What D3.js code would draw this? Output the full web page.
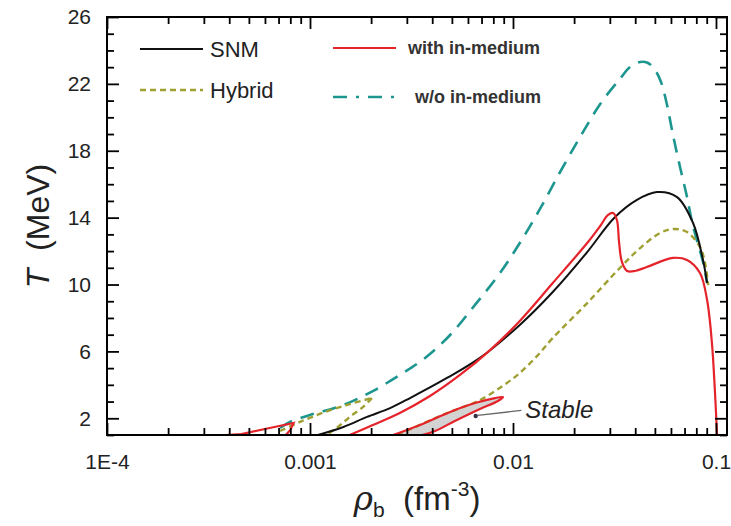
<!DOCTYPE html>
<html>
<head>
<meta charset="utf-8">
<script src="https://cdn.jsdelivr.net/npm/d3@7/dist/d3.min.js"></script>
<style>
  html, body { margin: 0; padding: 0; background: #fff; }
  svg { display: block; font-family: "Liberation Sans", Arial, sans-serif; }
</style>
</head>
<body>
<svg id="chart" width="731" height="526"></svg>
<script>
// ---------------- DATA ----------------
const xMajorTicks = [1e-4, 1e-3, 1e-2, 1e-1];
const xMajorLabels = ["1E-4", "0.001", "0.01", "0.1"];
const yMajorTicks = [2, 6, 10, 14, 18, 22, 26];
const yMajorLabels = ["2", "6", "10", "14", "18", "22", "26"];

// SNM (black solid)
const snmRho = [1.094e-3, 1.46e-3, 1.91e-3, 2.48e-3, 3.11e-3, 4.73e-3, 6.87e-3, 0.0108, 0.0157, 0.0232, 0.0315, 0.0408, 0.0512, 0.0643, 0.0771, 0.0863, 0.0904];
const snmT   = [1.0, 1.48, 2.08, 2.61, 3.21, 4.41, 5.61, 7.58, 9.55, 11.94, 13.98, 15.06, 15.53, 15.23, 13.68, 11.47, 10.09];

// w/o in-medium (teal dashed)
const woRho = [7.12e-4, 7.96e-4, 1.0e-3, 1.46e-3, 2.04e-3, 2.77e-3, 3.69e-3, 4.90e-3, 6.50e-3, 8.63e-3, 0.0108, 0.01358, 0.01706, 0.0214, 0.0269, 0.0336, 0.0377, 0.0423, 0.0462, 0.0501, 0.0536, 0.0574, 0.0614, 0.0665, 0.0720, 0.0762, 0.0805, 0.0863, 0.0904];
const woT   = [1.42, 1.78, 2.20, 2.79, 3.63, 4.59, 5.61, 6.98, 8.78, 10.69, 12.48, 14.52, 16.73, 18.82, 20.80, 22.29, 23.01, 23.31, 23.25, 22.83, 22.11, 20.74, 18.94, 17.03, 15.23, 13.74, 12.66, 11.35, 10.09];

// Hybrid (olive dashed): low-density branch (upper part, lower part) and main branch
const hybUpRho = [7.12e-4, 8.93e-4, 1.186e-3, 1.57e-3, 2.02e-3];
const hybUpT   = [1.24, 1.78, 2.38, 2.85, 3.21];
const hybLowRho = [2.02e-3, 1.82e-3, 1.57e-3, 1.41e-3, 1.21e-3];
const hybLowT   = [3.21, 2.67, 2.08, 1.60, 1.0];
const hybRho = [2.69e-3, 3.48e-3, 4.62e-3, 6.87e-3, 9.33e-3, 0.0108, 0.01312, 0.0157, 0.0232, 0.0336, 0.0423, 0.0530, 0.0614, 0.0720, 0.0834, 0.0883, 0.0915];
const hybT   = [1.0, 1.60, 2.26, 3.09, 4.11, 4.71, 5.72, 6.80, 8.89, 10.99, 12.18, 13.08, 13.32, 13.14, 12.24, 11.29, 9.97];

// with in-medium (red solid): main branch
const wiRho = [1.57e-3, 2.04e-3, 2.77e-3, 3.90e-3, 5.48e-3, 7.71e-3, 0.0108, 0.0157, 0.0232, 0.0269, 0.0294, 0.0311, 0.0325, 0.0333, 0.0344, 0.0365, 0.0399, 0.0457, 0.0614, 0.0720, 0.0834, 0.0904, 0.0955, 0.0989, 0.1012];
const wiT   = [1.0, 1.60, 2.32, 3.33, 4.59, 6.08, 7.82, 10.09, 12.48, 13.50, 14.16, 14.28, 13.86, 12.54, 11.35, 10.81, 10.81, 11.05, 11.59, 11.47, 10.69, 9.07, 6.50, 3.51, 1.0];
// with in-medium: small low-density sliver
const wiSmallRho = [3.81e-4, 4.6e-4, 6.0e-4, 8.3e-4, 8.0e-4, 7.6e-4];
const wiSmallT   = [1.0, 1.06, 1.36, 1.72, 1.30, 1.0];
// with in-medium: "Stable" pocket
const stableRho = [2.57e-3, 3.48e-3, 4.90e-3, 6.50e-3, 8.15e-3, 8.93e-3, 8.43e-3, 6.87e-3, 5.17e-3, 4.13e-3, 3.56e-3];
const stableT   = [1.0, 1.60, 2.38, 2.91, 3.21, 3.27, 3.03, 2.56, 1.84, 1.24, 1.0];

// annotation anchor
const stableLabel = { text: "Stable", rho: 0.0115, T: 2.35, pointRho: 6.7e-3, pointT: 2.35 };

// ---------------- CHART ----------------
const svg = d3.select("#chart");
const L = 107, R = 727, T0 = 17, B = 435;

const x = d3.scaleLog().domain([1e-4, 0.1133]).range([L, R]);
const y = d3.scaleLinear().domain([1, 26]).range([B, T0]);

const zip = (a, b) => a.map((v, i) => [v, b[i]]);

svg.append("defs").append("clipPath").attr("id", "clip")
  .append("rect").attr("x", L).attr("y", T0).attr("width", R - L).attr("height", B - T0);

const colors = { snm: "#111111", wo: "#1e9690", hyb: "#a0a032", wi: "#e5232a" };

const line = d3.line().x(d => x(d[0])).y(d => y(d[1])).curve(d3.curveCatmullRom.alpha(0.5));
const lineLin = d3.line().x(d => x(d[0])).y(d => y(d[1]));

const plot = svg.append("g").attr("clip-path", "url(#clip)");

// stable pocket fill
plot.append("path")
  .attr("d", line(zip(stableRho, stableT)) + "Z")
  .attr("fill", "#d3d3d3").attr("stroke", "none");

// curves
plot.append("path").attr("d", line(zip(woRho, woT)))
  .attr("fill", "none").attr("stroke", colors.wo).attr("stroke-width", 2.6)
  .attr("stroke-dasharray", "14,9");

[[hybUpRho, hybUpT], [hybLowRho, hybLowT], [hybRho, hybT]].forEach(([r, t]) => {
  plot.append("path").attr("d", line(zip(r, t)))
    .attr("fill", "none").attr("stroke", colors.hyb).attr("stroke-width", 2.4)
    .attr("stroke-dasharray", "6,4");
});

plot.append("path").attr("d", line(zip(snmRho, snmT)))
  .attr("fill", "none").attr("stroke", colors.snm).attr("stroke-width", 2);

plot.append("path").attr("d", line(zip(wiRho, wiT)))
  .attr("fill", "none").attr("stroke", colors.wi).attr("stroke-width", 2.2);
plot.append("path").attr("d", lineLin(zip(wiSmallRho, wiSmallT)))
  .attr("fill", "none").attr("stroke", colors.wi).attr("stroke-width", 2.2);
plot.append("path").attr("d", line(zip(stableRho, stableT)))
  .attr("fill", "none").attr("stroke", colors.wi).attr("stroke-width", 2.2);

// annotation
svg.append("line")
  .attr("x1", x(stableLabel.rho) - 4).attr("y1", y(stableLabel.T) - 2)
  .attr("x2", x(stableLabel.pointRho)).attr("y2", y(stableLabel.pointT) + 3)
  .attr("stroke", "#666").attr("stroke-width", 1.3);
svg.append("circle")
  .attr("cx", x(stableLabel.pointRho) - 2).attr("cy", y(stableLabel.pointT) + 3.5)
  .attr("r", 2.2).attr("fill", "#334");
svg.append("text")
  .attr("x", x(stableLabel.rho)).attr("y", y(stableLabel.T) + 6)
  .attr("font-size", 24).attr("font-style", "italic").attr("fill", "#222")
  .text(stableLabel.text);

// ---------------- AXES ----------------
const xMinor = [];
for (let e = -4; e <= -1; e++) for (let m = 2; m <= 9; m++) {
  const v = m * Math.pow(10, e);
  if (v < 0.1133) xMinor.push(v);
}
const yMinor = d3.range(1, 27).filter(v => !yMajorTicks.includes(v));

function styleAxis(g) {
  g.select(".domain").remove();
  g.selectAll(".tick line").attr("stroke", "#000").attr("stroke-width", 1.8);
  g.selectAll("text").attr("fill", "#222").attr("font-size", 21)
    .attr("font-family", "'Liberation Sans', Arial, sans-serif");
}

// bottom
svg.append("g").attr("transform", `translate(0,${B})`)
  .call(d3.axisBottom(x).tickValues(xMajorTicks).tickSize(-12).tickPadding(19)
    .tickFormat((d, i) => xMajorLabels[i]))
  .call(styleAxis);
svg.append("g").attr("transform", `translate(0,${B})`)
  .call(d3.axisBottom(x).tickValues(xMinor).tickSize(-7).tickFormat(""))
  .call(styleAxis);
// top
svg.append("g").attr("transform", `translate(0,${T0})`)
  .call(d3.axisTop(x).tickValues(xMajorTicks).tickSize(-12).tickFormat(""))
  .call(styleAxis);
svg.append("g").attr("transform", `translate(0,${T0})`)
  .call(d3.axisTop(x).tickValues(xMinor).tickSize(-7).tickFormat(""))
  .call(styleAxis);
// left
svg.append("g").attr("transform", `translate(${L},0)`)
  .call(d3.axisLeft(y).tickValues(yMajorTicks).tickSize(-12).tickPadding(16)
    .tickFormat((d, i) => yMajorLabels[i]))
  .call(styleAxis);
svg.append("g").attr("transform", `translate(${L},0)`)
  .call(d3.axisLeft(y).tickValues(yMinor).tickSize(-7).tickFormat(""))
  .call(styleAxis);
// right
svg.append("g").attr("transform", `translate(${R},0)`)
  .call(d3.axisRight(y).tickValues(yMajorTicks).tickSize(-12).tickFormat(""))
  .call(styleAxis);
svg.append("g").attr("transform", `translate(${R},0)`)
  .call(d3.axisRight(y).tickValues(yMinor).tickSize(-7).tickFormat(""))
  .call(styleAxis);

// frame
svg.append("rect").attr("x", L).attr("y", T0).attr("width", R - L).attr("height", B - T0)
  .attr("fill", "none").attr("stroke", "#000").attr("stroke-width", 2);

// axis titles
const xt = svg.append("text").attr("x", (L + R) / 2).attr("y", 510)
  .attr("text-anchor", "middle").attr("font-size", 33).attr("fill", "#222");
xt.append("tspan").attr("font-style", "italic").attr("font-family", "'DejaVu Serif', serif").text("ρ");
xt.append("tspan").attr("font-size", 21).attr("dy", 7).text("b");
xt.append("tspan").attr("dy", -7).text("\u00A0\u00A0(fm");
xt.append("tspan").attr("font-size", 21).attr("dy", -14).text("-3");
xt.append("tspan").attr("dy", 14).text(")");

const yt = svg.append("text")
  .attr("transform", `translate(49,${(T0 + B) / 2}) rotate(-90)`)
  .attr("text-anchor", "middle").attr("font-size", 32).attr("fill", "#222");
yt.append("tspan").attr("font-style", "italic").text("T");
yt.append("tspan").text("\u00A0\u00A0(MeV)");

// ---------------- LEGEND ----------------
const legend = [
  { label: "SNM", color: colors.snm, dash: null, w: 2, x: 140, y: 49, tx: 210, size: 22 },
  { label: "Hybrid", color: colors.hyb, dash: "6,4", w: 2.4, x: 140, y: 90, tx: 210, size: 22 },
  { label: "with in-medium", color: colors.wi, dash: null, w: 2.2, x: 333, y: 48, tx: 408, size: 18 },
  { label: "w/o in-medium", color: colors.wo, dash: "14,9,3,9", w: 2.6, x: 333, y: 97, tx: 415, size: 18 }
];
legend.forEach(d => {
  svg.append("line").attr("x1", d.x).attr("x2", d.x + 63).attr("y1", d.y).attr("y2", d.y)
    .attr("stroke", d.color).attr("stroke-width", d.w)
    .attr("stroke-dasharray", d.dash);
  svg.append("text").attr("x", d.tx).attr("y", d.y).attr("dy", "0.35em")
    .attr("font-size", d.size).attr("fill", d.size < 20 ? "#333" : "#222")
    .attr("font-weight", d.size < 20 ? "bold" : "normal")
    .text(d.label);
});
</script>
</body>
</html>
